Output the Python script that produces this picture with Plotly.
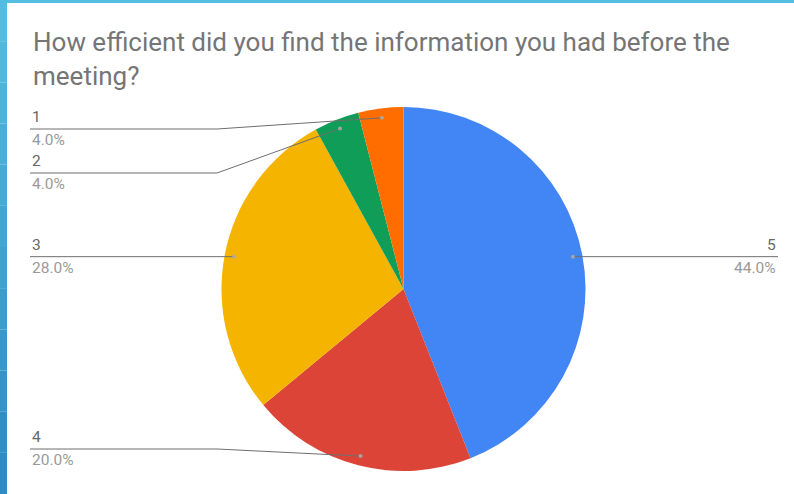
import math
import plotly.graph_objects as go

# ---- data ----
labels = ["5", "4", "3", "2", "1"]
percents = [44.0, 20.0, 28.0, 4.0, 4.0]
colors = ["#4285F4", "#DB4437", "#F4B400", "#0F9D58", "#FF6D00"]
title_text = "How efficient did you find the information you had before the<br>meeting?"

# ---- layout constants (pixels) ----
W, H = 794, 494
CX, CY, R = 403.5, 289.0, 182.0
DOT_R = 0.948 * R
LEFT_X, RIGHT_X = 30, 778
ELBOW_X = 217
# label line rows chosen by the label layout (pixels); default = dot height
label_row = {"1": 129, "2": 173, "4": 449}


def px(x):
    return x / W


def py(y):
    return 1 - y / H


fig = go.Figure(
    go.Pie(
        labels=labels,
        values=percents,
        sort=False,
        direction="clockwise",
        rotation=0,
        marker=dict(colors=colors, line=dict(width=0)),
        textinfo="none",
        showlegend=False,
        domain=dict(x=[px(CX - R), px(CX + R)], y=[py(CY + R), py(CY - R)]),
    )
)

shapes = []
annotations = []

# slide frame (blue border)
shapes.append(dict(type="rect", xref="paper", yref="paper", x0=0, x1=1,
                   y0=py(3), y1=1, fillcolor="#55BFE2", line=dict(width=0), layer="above"))
n = 12
for i in range(n):
    t = i / (n - 1)
    r = int(0x52 + (0x2C - 0x52) * t)
    g = int(0xBD + (0x8C - 0xBD) * t)
    b = int(0xE2 + (0xC6 - 0xE2) * t)
    shapes.append(dict(type="rect", xref="paper", yref="paper", x0=0, x1=px(7),
                       y0=py(H * (i + 1) / n), y1=py(H * i / n),
                       fillcolor=f"rgb({r},{g},{b})", line=dict(width=0), layer="above"))

total = sum(percents)
cum = 0.0
for lab, v in zip(labels, percents):
    mid = 2 * math.pi * (cum + v / 2) / total
    cum += v
    dx = CX + DOT_R * math.sin(mid)
    dy = CY - DOT_R * math.cos(mid)
    right = math.sin(mid) > 0
    ly = label_row.get(lab, dy)
    end_x = RIGHT_X if right else LEFT_X
    if abs(ly - dy) < 0.5:
        path = f"M {px(end_x)},{py(ly)} L {px(dx)},{py(dy)}"
    else:
        ex = W - ELBOW_X if right else ELBOW_X
        path = f"M {px(end_x)},{py(ly)} L {px(ex)},{py(ly)} L {px(dx)},{py(dy)}"
    shapes.append(dict(type="path", path=path, xref="paper", yref="paper",
                       line=dict(color="#6f6f6f", width=1), layer="above"))
    shapes.append(dict(type="circle", xref="paper", yref="paper",
                       x0=px(dx - 2), x1=px(dx + 2), y0=py(dy + 2), y1=py(dy - 2),
                       fillcolor="rgba(170,170,170,0.9)", line=dict(width=0), layer="above"))
    anchor = "right" if right else "left"
    annotations.append(dict(x=px(end_x), y=py(ly - 12), xref="paper", yref="paper",
                            text=lab, showarrow=False, xanchor=anchor, yanchor="middle",
                            font=dict(family="Roboto", size=15.5, color="#666666")))
    annotations.append(dict(x=px(end_x), y=py(ly + 11), xref="paper", yref="paper",
                            text=f"{v:.1f}%", showarrow=False, xanchor=anchor, yanchor="middle",
                            font=dict(family="Roboto", size=15.5, color="#9a9a9a")))

annotations.append(dict(x=px(31), y=py(59), xref="paper", yref="paper",
                        text=title_text, showarrow=False, xanchor="left", yanchor="middle",
                        align="left",
                        font=dict(family="Roboto", size=26, color="#757575")))

fig.update_layout(
    width=W, height=H,
    margin=dict(l=0, r=0, t=0, b=0),
    paper_bgcolor="white",
    plot_bgcolor="white",
    shapes=shapes,
    annotations=annotations,
)

fig.write_html("out.html", config={"displayModeBar": False},
               post_script="document.body.style.margin='0';")
